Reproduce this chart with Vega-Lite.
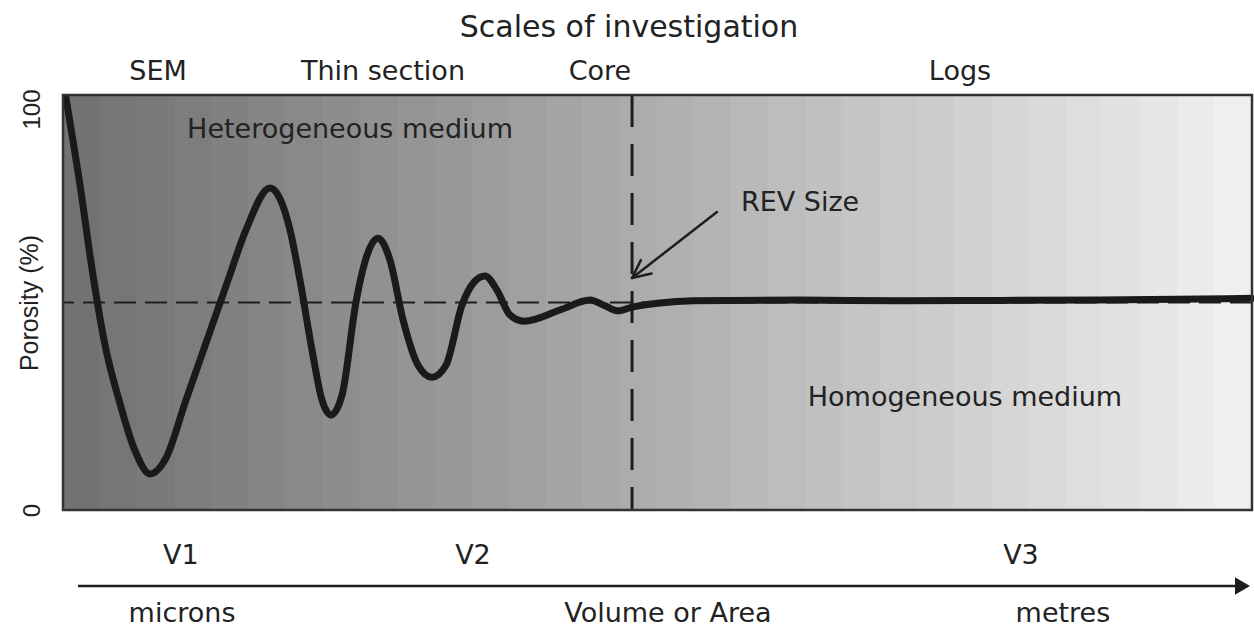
{
  "$schema": "https://vega.github.io/schema/vega-lite/v6.json",
  "autosize": {"type": "none"},
  "width": 1189,
  "height": 415,
  "padding": {"left": 63, "top": 95, "right": 2, "bottom": 123},
  "background": "white",
  "config": {"view": {"stroke": null}},
  "datasets": {
    "bands": [
      {"b": 0, "x0": 0, "x1": 3.125}, {"b": 1, "x0": 3.125, "x1": 6.25}, {"b": 2, "x0": 6.25, "x1": 9.375}, {"b": 3, "x0": 9.375, "x1": 12.5},
      {"b": 4, "x0": 12.5, "x1": 15.625}, {"b": 5, "x0": 15.625, "x1": 18.75}, {"b": 6, "x0": 18.75, "x1": 21.875}, {"b": 7, "x0": 21.875, "x1": 25},
      {"b": 8, "x0": 25, "x1": 28.125}, {"b": 9, "x0": 28.125, "x1": 31.25}, {"b": 10, "x0": 31.25, "x1": 34.375}, {"b": 11, "x0": 34.375, "x1": 37.5},
      {"b": 12, "x0": 37.5, "x1": 40.625}, {"b": 13, "x0": 40.625, "x1": 43.75}, {"b": 14, "x0": 43.75, "x1": 46.875}, {"b": 15, "x0": 46.875, "x1": 50},
      {"b": 16, "x0": 50, "x1": 53.125}, {"b": 17, "x0": 53.125, "x1": 56.25}, {"b": 18, "x0": 56.25, "x1": 59.375}, {"b": 19, "x0": 59.375, "x1": 62.5},
      {"b": 20, "x0": 62.5, "x1": 65.625}, {"b": 21, "x0": 65.625, "x1": 68.75}, {"b": 22, "x0": 68.75, "x1": 71.875}, {"b": 23, "x0": 71.875, "x1": 75},
      {"b": 24, "x0": 75, "x1": 78.125}, {"b": 25, "x0": 78.125, "x1": 81.25}, {"b": 26, "x0": 81.25, "x1": 84.375}, {"b": 27, "x0": 84.375, "x1": 87.5},
      {"b": 28, "x0": 87.5, "x1": 90.625}, {"b": 29, "x0": 90.625, "x1": 93.75}, {"b": 30, "x0": 93.75, "x1": 96.875}, {"b": 31, "x0": 96.875, "x1": 100}
    ],
    "curve": [
      {"x": 0.25, "y": 99.3}, {"x": 1.43, "y": 78.3}, {"x": 2.52, "y": 56.6}, {"x": 3.53, "y": 39.8}, {"x": 4.71, "y": 26.5},
      {"x": 5.97, "y": 14.9}, {"x": 7.32, "y": 8.7}, {"x": 8.66, "y": 12.5}, {"x": 10.34, "y": 26.5}, {"x": 13.88, "y": 55.4},
      {"x": 15.39, "y": 67.5}, {"x": 17.41, "y": 77.6}, {"x": 19.09, "y": 67.5}, {"x": 19.93, "y": 55.4}, {"x": 20.94, "y": 38.6},
      {"x": 21.78, "y": 26.5}, {"x": 22.54, "y": 22.9}, {"x": 23.47, "y": 27.7}, {"x": 24.64, "y": 50.1}, {"x": 25.57, "y": 61.4},
      {"x": 26.49, "y": 65.5}, {"x": 27.5, "y": 60.2}, {"x": 28.6, "y": 45.8}, {"x": 29.86, "y": 34.9}, {"x": 31.03, "y": 32.0},
      {"x": 32.21, "y": 34.9}, {"x": 33.56, "y": 49.4}, {"x": 34.57, "y": 54.9}, {"x": 35.49, "y": 56.4}, {"x": 36.5, "y": 53.0},
      {"x": 37.59, "y": 47.0}, {"x": 38.77, "y": 45.5}, {"x": 41.8, "y": 48.2}, {"x": 44.32, "y": 50.6}, {"x": 45.58, "y": 49.2},
      {"x": 46.68, "y": 48.0}, {"x": 47.86, "y": 48.9}, {"x": 50.21, "y": 49.9}, {"x": 52.99, "y": 50.4}, {"x": 61.98, "y": 50.6},
      {"x": 70.4, "y": 50.4}, {"x": 78.8, "y": 50.5}, {"x": 87.22, "y": 50.6}, {"x": 100, "y": 51.0}
    ],
    "rev": [
      {"x": 55.0, "y": 71.8, "x2": 47.86, "y2": 55.9},
      {"x": 47.86, "y": 55.9, "x2": 49.5, "y2": 57.0},
      {"x": 47.86, "y": 55.9, "x2": 48.6, "y2": 60.2}
    ],
    "title": [
      {"text": "Scales of investigation", "x": 47.6, "y": 116.14}
    ],
    "labels": [
      {"text": "SEM", "x": 7.99, "y": 105.54},
      {"text": "Thin section", "x": 26.91, "y": 105.54},
      {"text": "Core", "x": 45.16, "y": 105.54},
      {"text": "Logs", "x": 75.44, "y": 105.54},
      {"text": "Heterogeneous medium", "x": 24.14, "y": 91.57},
      {"text": "REV Size", "x": 61.99, "y": 73.98},
      {"text": "Homogeneous medium", "x": 75.86, "y": 26.99},
      {"text": "V1", "x": 9.92, "y": -11.08},
      {"text": "V2", "x": 34.48, "y": -11.08},
      {"text": "V3", "x": 80.57, "y": -11.08},
      {"text": "microns", "x": 10.01, "y": -25.06},
      {"text": "Volume or Area", "x": 50.88, "y": -25.06},
      {"text": "metres", "x": 84.1, "y": -25.06}
    ],
    "scaleaxis": [
      {"x": 1.26, "x2": 98.6, "y": -18.31, "tip": 99.2}
    ]
  },
  "layer": [
    {
      "data": {"name": "bands"},
      "mark": {"type": "rect", "strokeWidth": 1},
      "encoding": {
        "x": {"field": "x0", "type": "quantitative", "scale": {"domain": [0, 100], "nice": false, "zero": false}, "axis": null},
        "x2": {"field": "x1"},
        "y": {"datum": 0, "type": "quantitative", "scale": {"domain": [0, 100], "nice": false}},
        "y2": {"datum": 100},
        "color": {"field": "b", "type": "quantitative", "scale": {"domain": [0, 31], "range": ["#727272", "#efefef"]}, "legend": null},
        "stroke": {"field": "b", "type": "quantitative", "scale": {"domain": [0, 31], "range": ["#727272", "#efefef"]}, "legend": null}
      }
    },
    {
      "data": {"values": [{}]},
      "mark": {"type": "rule", "color": "#1e1e1e", "strokeWidth": 1.8, "strokeDash": [22, 9]},
      "encoding": {"y": {"datum": 50, "type": "quantitative"}}
    },
    {
      "data": {"values": [{}]},
      "mark": {"type": "rule", "color": "#1e1e1e", "strokeWidth": 3, "strokeDash": [32, 17]},
      "encoding": {"x": {"datum": 47.86, "type": "quantitative", "axis": null}}
    },
    {
      "data": {"name": "curve"},
      "mark": {"type": "line", "color": "#1a1a1a", "strokeWidth": 7, "interpolate": "monotone", "strokeCap": "round", "strokeJoin": "round"},
      "encoding": {
        "x": {"field": "x", "type": "quantitative", "axis": null},
        "y": {
          "field": "y", "type": "quantitative",
          "axis": {
            "orient": "left",
            "values": [0, 100], "domain": false, "ticks": false, "grid": false,
            "labelAngle": -90, "labelBaseline": "bottom",
            "labelAlign": {"condition": {"test": "datum.value === 100", "value": "right"}, "value": "center"},
            "labelOffset": {"condition": {"test": "datum.value === 100", "value": -6}, "value": 0},
            "labelFont": "Liberation Sans", "labelFontSize": 24, "labelColor": "#222222", "labelPadding": 19,
            "title": "Porosity (%)", "titleFont": "Liberation Sans", "titleFontSize": 25, "titleFontWeight": "normal",
            "titleColor": "#222222", "titlePadding": -22
          }
        }
      }
    },
    {
      "data": {"name": "rev"},
      "mark": {"type": "rule", "color": "#1e1e1e", "strokeWidth": 2.5, "strokeCap": "round"},
      "encoding": {
        "x": {"field": "x", "type": "quantitative", "axis": null},
        "y": {"field": "y", "type": "quantitative"},
        "x2": {"field": "x2"},
        "y2": {"field": "y2"}
      }
    },
    {
      "data": {"values": [{}]},
      "mark": {"type": "rect", "fill": null, "fillOpacity": 0, "stroke": "#333333", "strokeWidth": 2.5},
      "encoding": {
        "x": {"datum": 0, "type": "quantitative", "axis": null},
        "x2": {"datum": 100},
        "y": {"datum": 0, "type": "quantitative"},
        "y2": {"datum": 100}
      }
    },
    {
      "data": {"name": "scaleaxis"},
      "mark": {"type": "rule", "color": "#1e1e1e", "strokeWidth": 2.5},
      "encoding": {
        "x": {"field": "x", "type": "quantitative", "axis": null},
        "x2": {"field": "x2"},
        "y": {"field": "y", "type": "quantitative"}
      }
    },
    {
      "data": {"name": "scaleaxis"},
      "mark": {"type": "point", "shape": "triangle-right", "filled": true, "color": "#1e1e1e", "size": 300, "opacity": 1},
      "encoding": {
        "x": {"field": "tip", "type": "quantitative", "axis": null},
        "y": {"field": "y", "type": "quantitative"}
      }
    },
    {
      "data": {"name": "title"},
      "mark": {"type": "text", "font": "DejaVu Sans", "fontSize": 30, "color": "#222222", "align": "center", "baseline": "middle"},
      "encoding": {
        "x": {"field": "x", "type": "quantitative", "axis": null},
        "y": {"field": "y", "type": "quantitative"},
        "text": {"field": "text"}
      }
    },
    {
      "data": {"name": "labels"},
      "mark": {"type": "text", "font": "DejaVu Sans", "fontSize": 27, "color": "#222222", "align": "center", "baseline": "middle"},
      "encoding": {
        "x": {"field": "x", "type": "quantitative", "axis": null},
        "y": {"field": "y", "type": "quantitative"},
        "text": {"field": "text"}
      }
    }
  ]
}
